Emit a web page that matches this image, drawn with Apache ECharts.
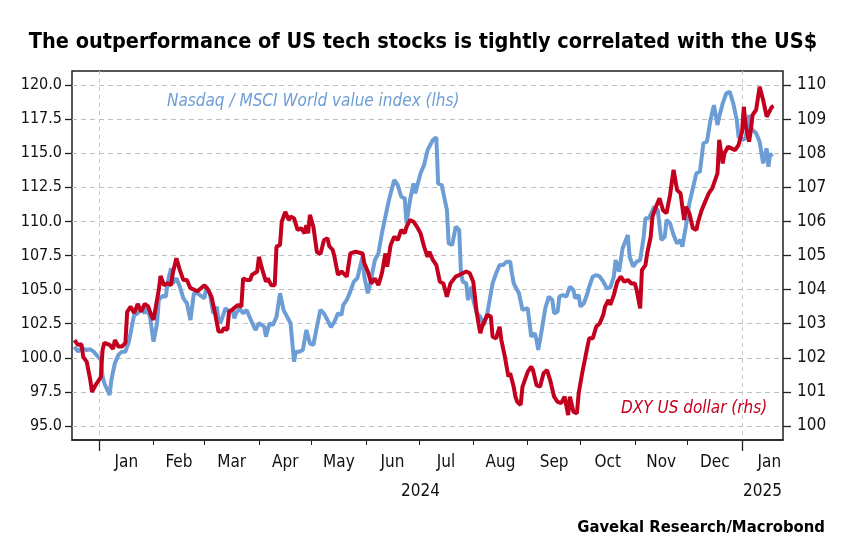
<!DOCTYPE html>
<html><head><meta charset="utf-8">
<script src="https://cdn.jsdelivr.net/npm/echarts@6/dist/echarts.min.js"></script>
<style>html,body{margin:0;padding:0;background:#fff}#c{width:846px;height:551px}</style>
</head><body><div id="c"></div>
<script>
// x values are days since 2024-01-01
const monthStarts = [0,31,60,91,121,152,182,213,244,274,305,335,366,397];
const monthLabels = ['Jan','Feb','Mar','Apr','May','Jun','Jul','Aug','Sep','Oct','Nov','Dec','Jan'];
const yearTicks = [0,366];
const yearLabels = ['2024','2025'];
const leftTicks = [95,97.5,100,102.5,105,107.5,110,112.5,115,117.5,120];
const rightTicks = [100,101,102,103,104,105,106,107,108,109,110];

const nasdaqDays = [
-14,-12,-10,-7,-5,-3,-1,1,2,3,
6,7,9,11,13,15,17,19,20,22,
24,26,27,29,31,33,34,36,38,39,
41,42,44,46,48,50,52,54,56,57,
60,61,63,65,67,68,69,71,72,74,
76,77,78,80,82,84,86,89,91,94,
95,97,99,101,103,105,106,109,111,112,
114,116,118,120,122,124,126,128,130,132,
134,136,138,139,141,143,145,147,150,151,
153,154,157,159,161,165,168,170,172,174,
175,177,179,180,183,185,186,187,190,192,
193,195,196,198,199,201,203,205,206,207,
209,210,212,213,215,217,219,221,222,224,
226,228,230,232,234,235,236,238,239,241,
242,244,246,248,249,250,252,254,256,258,
259,261,262,264,266,268,270,271,273,274,
276,278,279,281,283,285,287,289,291,293,
294,296,298,301,302,304,306,308,310,311,
313,316,318,320,322,323,325,327,329,331,
332,334,336,338,340,342,344,346,348,350,
352,353,355,357,359,361,363,364,366,368,
370,371,372,374,376,378,380,381,382,383];
const nasdaqValues = [
100.81,100.45,100.70,100.57,100.62,100.45,100.13,99.84,98.62,98.13,
97.27,98.37,99.60,100.21,100.45,100.45,101.18,102.53,103.14,103.26,
103.56,103.26,103.63,103.01,101.18,102.53,104.24,104.53,104.48,105.46,
106.56,105.46,105.83,105.21,104.36,104.00,102.77,104.73,104.73,104.60,
104.36,105.21,104.73,103.26,103.75,102.77,102.53,103.26,103.63,103.38,
103.51,102.90,103.26,103.63,103.26,103.51,102.90,102.04,102.53,102.28,
101.55,102.53,102.41,103.01,104.73,103.51,103.63,102.53,99.71,100.45,
100.45,100.57,102.04,101.06,100.94,102.28,103.51,103.26,102.77,102.24,
102.65,103.26,103.14,103.87,104.24,104.85,105.58,105.83,107.41,105.95,
104.73,105.21,107.17,107.66,109.13,111.57,113.04,112.67,111.81,111.69,
109.86,111.57,112.79,112.06,113.53,114.14,114.01,115.23,115.97,116.17,
112.79,112.67,112.54,110.84,108.39,108.27,109.61,109.37,106.20,105.58,
105.46,104.24,105.21,104.24,103.26,103.01,102.41,103.26,104.00,105.46,
106.20,106.80,106.80,107.05,107.05,106.20,105.46,104.97,104.73,103.51,
103.38,103.63,101.55,101.80,101.31,100.57,102.04,103.63,104.48,104.24,
103.26,103.38,104.48,104.60,104.48,105.21,104.97,104.36,104.60,103.75,
104.00,104.73,105.21,105.95,106.07,105.95,105.58,105.10,105.15,105.95,
107.17,106.31,108.03,109.00,107.41,106.68,107.05,107.17,108.88,110.23,
110.23,111.08,110.84,108.64,108.88,110.10,109.86,109.00,108.39,108.64,
108.15,109.61,111.33,112.43,113.53,113.64,115.73,115.84,117.43,118.53,
117.07,117.68,118.66,119.39,119.51,118.66,117.43,116.21,115.97,116.09,
117.80,116.83,116.70,116.46,115.84,114.26,115.36,114.01,114.99,114.74];

const dxyDays = [
-14,-12,-10,-9,-7,-5,-4,-2,0,1,
2,3,6,8,9,11,13,15,16,18,
20,22,24,26,28,30,31,34,35,37,
39,41,42,44,46,48,50,52,54,56,
57,60,62,64,66,68,70,71,73,74,
76,77,79,81,82,84,86,87,90,91,
93,95,96,98,100,101,103,104,106,108,
109,111,112,113,115,117,118,119,120,122,
124,126,128,130,131,133,134,136,138,141,
143,146,150,151,153,155,157,159,161,163,
164,166,168,170,172,174,175,177,179,181,
183,185,187,188,190,192,194,196,198,200,
203,205,206,209,211,213,215,216,217,218,
221,223,224,226,228,229,231,233,234,236,
237,238,240,241,244,246,247,249,251,253,
255,257,259,261,263,265,267,268,270,272,
273,275,278,279,281,283,285,287,288,290,
291,293,295,297,299,301,303,305,306,308,
309,311,312,314,315,317,319,321,323,325,
327,329,331,333,334,336,338,340,341,343,
345,347,349,350,352,353,355,356,358,360,
362,364,366,367,368,370,371,372,374,376,
378,380,381,383,384];
const dxyValues = [
102.52,102.38,102.40,102.03,101.88,101.35,101.00,101.20,101.35,101.44,
102.23,102.44,102.38,102.26,102.52,102.33,102.33,102.44,103.35,103.50,
103.31,103.58,103.35,103.58,103.50,103.21,103.11,103.99,104.40,104.13,
104.19,104.13,104.49,104.92,104.57,104.28,104.28,104.04,104.00,103.95,
103.90,104.13,104.00,103.79,103.31,102.77,102.77,102.87,102.82,103.35,
103.42,103.40,103.55,103.50,104.33,104.28,104.28,104.43,104.53,104.96,
104.57,104.23,104.33,104.13,104.13,105.26,105.31,105.99,106.28,106.04,
106.14,106.09,106.09,105.75,105.80,105.65,105.89,105.65,106.19,105.84,
105.10,105.04,105.45,105.51,105.28,105.16,104.96,104.43,104.53,104.38,
105.06,105.11,105.06,104.77,104.53,104.18,104.33,104.13,104.48,105.06,
104.67,105.31,105.55,105.45,105.75,105.65,105.84,106.04,105.99,105.84,
105.65,105.26,104.96,105.11,104.87,104.72,104.23,104.18,103.79,104.18,
104.38,104.43,104.38,104.53,104.48,104.23,103.31,103.01,102.72,102.91,
103.26,103.21,102.62,102.57,102.91,102.52,102.03,101.45,101.55,101.15,
100.86,100.71,100.62,101.15,101.59,101.74,101.64,101.20,101.15,101.55,
101.64,101.30,100.86,100.71,100.67,100.86,100.32,100.86,100.42,100.37,
100.96,101.55,102.33,102.57,102.57,102.91,103.01,103.26,103.50,103.70,
103.55,103.84,104.23,104.38,104.23,104.28,104.18,104.18,103.99,103.45,
104.57,104.72,105.06,105.55,106.14,106.43,106.68,106.33,106.24,106.77,
107.51,106.92,106.82,106.04,106.43,106.24,105.80,105.75,105.99,106.33,
106.58,106.82,106.97,106.92,107.41,108.39,107.70,108.00,108.19,108.14,
108.09,108.24,108.63,109.36,108.83,108.34,108.68,109.12,109.27,109.95,
109.56,109.07,109.02,109.36,109.38];

const FONT = '"Liberation Sans Narrow","DejaVu Sans Condensed","Roboto Condensed",sans-serif';
const BLUE = '#6d9dd5';
const RED = '#c3001d';
const xMin = -15.4, xMax = 389.3;
const monthLabelPos = monthLabels.map((_, i) => (monthStarts[i] + monthStarts[i + 1]) / 2);
const yearLabelPos = [(yearTicks[0] + yearTicks[1]) / 2, (yearTicks[1] + xMax) / 2];
function nearestLabel(pos, labels, v) {
  let best = 0;
  for (let i = 1; i < pos.length; i++) if (Math.abs(pos[i] - v) < Math.abs(pos[best] - v)) best = i;
  return labels[best];
}
const labelStyle = { fontFamily: FONT, fontSize: 17, color: '#111' };
const yLabelStyle = { fontFamily: FONT, fontSize: 16, color: '#111' };

const chart = echarts.init(document.getElementById('c'), null, { renderer: 'canvas' });
chart.setOption({
  animation: false,
  backgroundColor: '#fff',
  textStyle: { fontFamily: FONT },
  grid: { left: 72, right: 63, top: 71, bottom: 111, show: true, borderColor: '#222', borderWidth: 1.5,
          containLabel: false, outerBoundsMode: 'none' },
  xAxis: [
    { type: 'value', min: xMin, max: xMax, position: 'bottom',
      axisLine: { show: true, onZero: false, lineStyle: { color: '#222', width: 1.5 } },
      axisTick: { show: true, inside: false, customValues: monthStarts.slice(0, 13), length: 5, lineStyle: { color: '#222', width: 1 } },
      axisLabel: Object.assign({ customValues: monthLabelPos, margin: 14,
        formatter: v => nearestLabel(monthLabelPos, monthLabels, v) }, labelStyle),
      splitLine: { show: false } },
    { type: 'value', min: xMin, max: xMax, position: 'bottom',
      axisLine: { show: false, onZero: false },
      axisTick: { show: true, inside: false, customValues: yearTicks, length: 11, lineStyle: { color: '#222', width: 1.3 } },
      axisLabel: Object.assign({ customValues: yearLabelPos, margin: 43,
        formatter: v => nearestLabel(yearLabelPos, yearLabels, v) }, labelStyle),
      splitLine: { show: true, lineStyle: { color: '#c4c4c4', width: 1, type: [4, 4] } } }
  ],
  yAxis: [
    { type: 'value', position: 'left', min: 93.97, max: 121.03,
      axisLine: { show: false, onZero: false },
      axisTick: { show: true, inside: false, customValues: leftTicks, length: 7, lineStyle: { color: '#222', width: 1.3 } },
      axisLabel: Object.assign({ customValues: leftTicks, margin: 10, formatter: v => v.toFixed(1) }, yLabelStyle),
      splitLine: { show: true, lineStyle: { color: '#bdbdbd', width: 1, type: [5, 4] } } },
    { type: 'value', position: 'right', min: 99.59, max: 110.41,
      axisLine: { show: false, onZero: false },
      axisTick: { show: true, inside: false, customValues: rightTicks, length: 8, lineStyle: { color: '#222', width: 1.3 } },
      axisLabel: Object.assign({ customValues: rightTicks, margin: 14, formatter: v => String(v) }, labelStyle),
      splitLine: { show: false } }
  ],
  series: [
    { type: 'line', name: 'Nasdaq / MSCI World value index (lhs)', xAxisIndex: 0, yAxisIndex: 0,
      data: nasdaqDays.map((d, i) => [d, nasdaqValues[i]]),
      showSymbol: false, symbol: 'none', lineStyle: { color: BLUE, width: 4 }, itemStyle: { color: BLUE }, z: 3 },
    { type: 'line', name: 'DXY US dollar (rhs)', xAxisIndex: 0, yAxisIndex: 1,
      data: dxyDays.map((d, i) => [d, dxyValues[i]]),
      showSymbol: false, symbol: 'none', lineStyle: { color: RED, width: 4 }, itemStyle: { color: RED }, z: 4 }
  ],
  graphic: [
    { type: 'text', left: 'center', top: 31,
      style: { text: 'The outperformance of US tech stocks is tightly correlated with the US$', font: 'bold 21.5px ' + FONT, fill: '#000' } },
    { type: 'text', left: 167, top: 93,
      style: { text: 'Nasdaq / MSCI World value index (lhs)', font: 'italic 17px ' + FONT, fill: BLUE } },
    { type: 'text', left: 621, top: 400,
      style: { text: 'DXY US dollar (rhs)', font: 'italic 17px ' + FONT, fill: RED } },
    { type: 'text', right: 21, top: 519,
      style: { text: 'Gavekal Research/Macrobond', font: 'bold 16.5px ' + FONT, fill: '#000' } }
  ]
});
</script></body></html>
